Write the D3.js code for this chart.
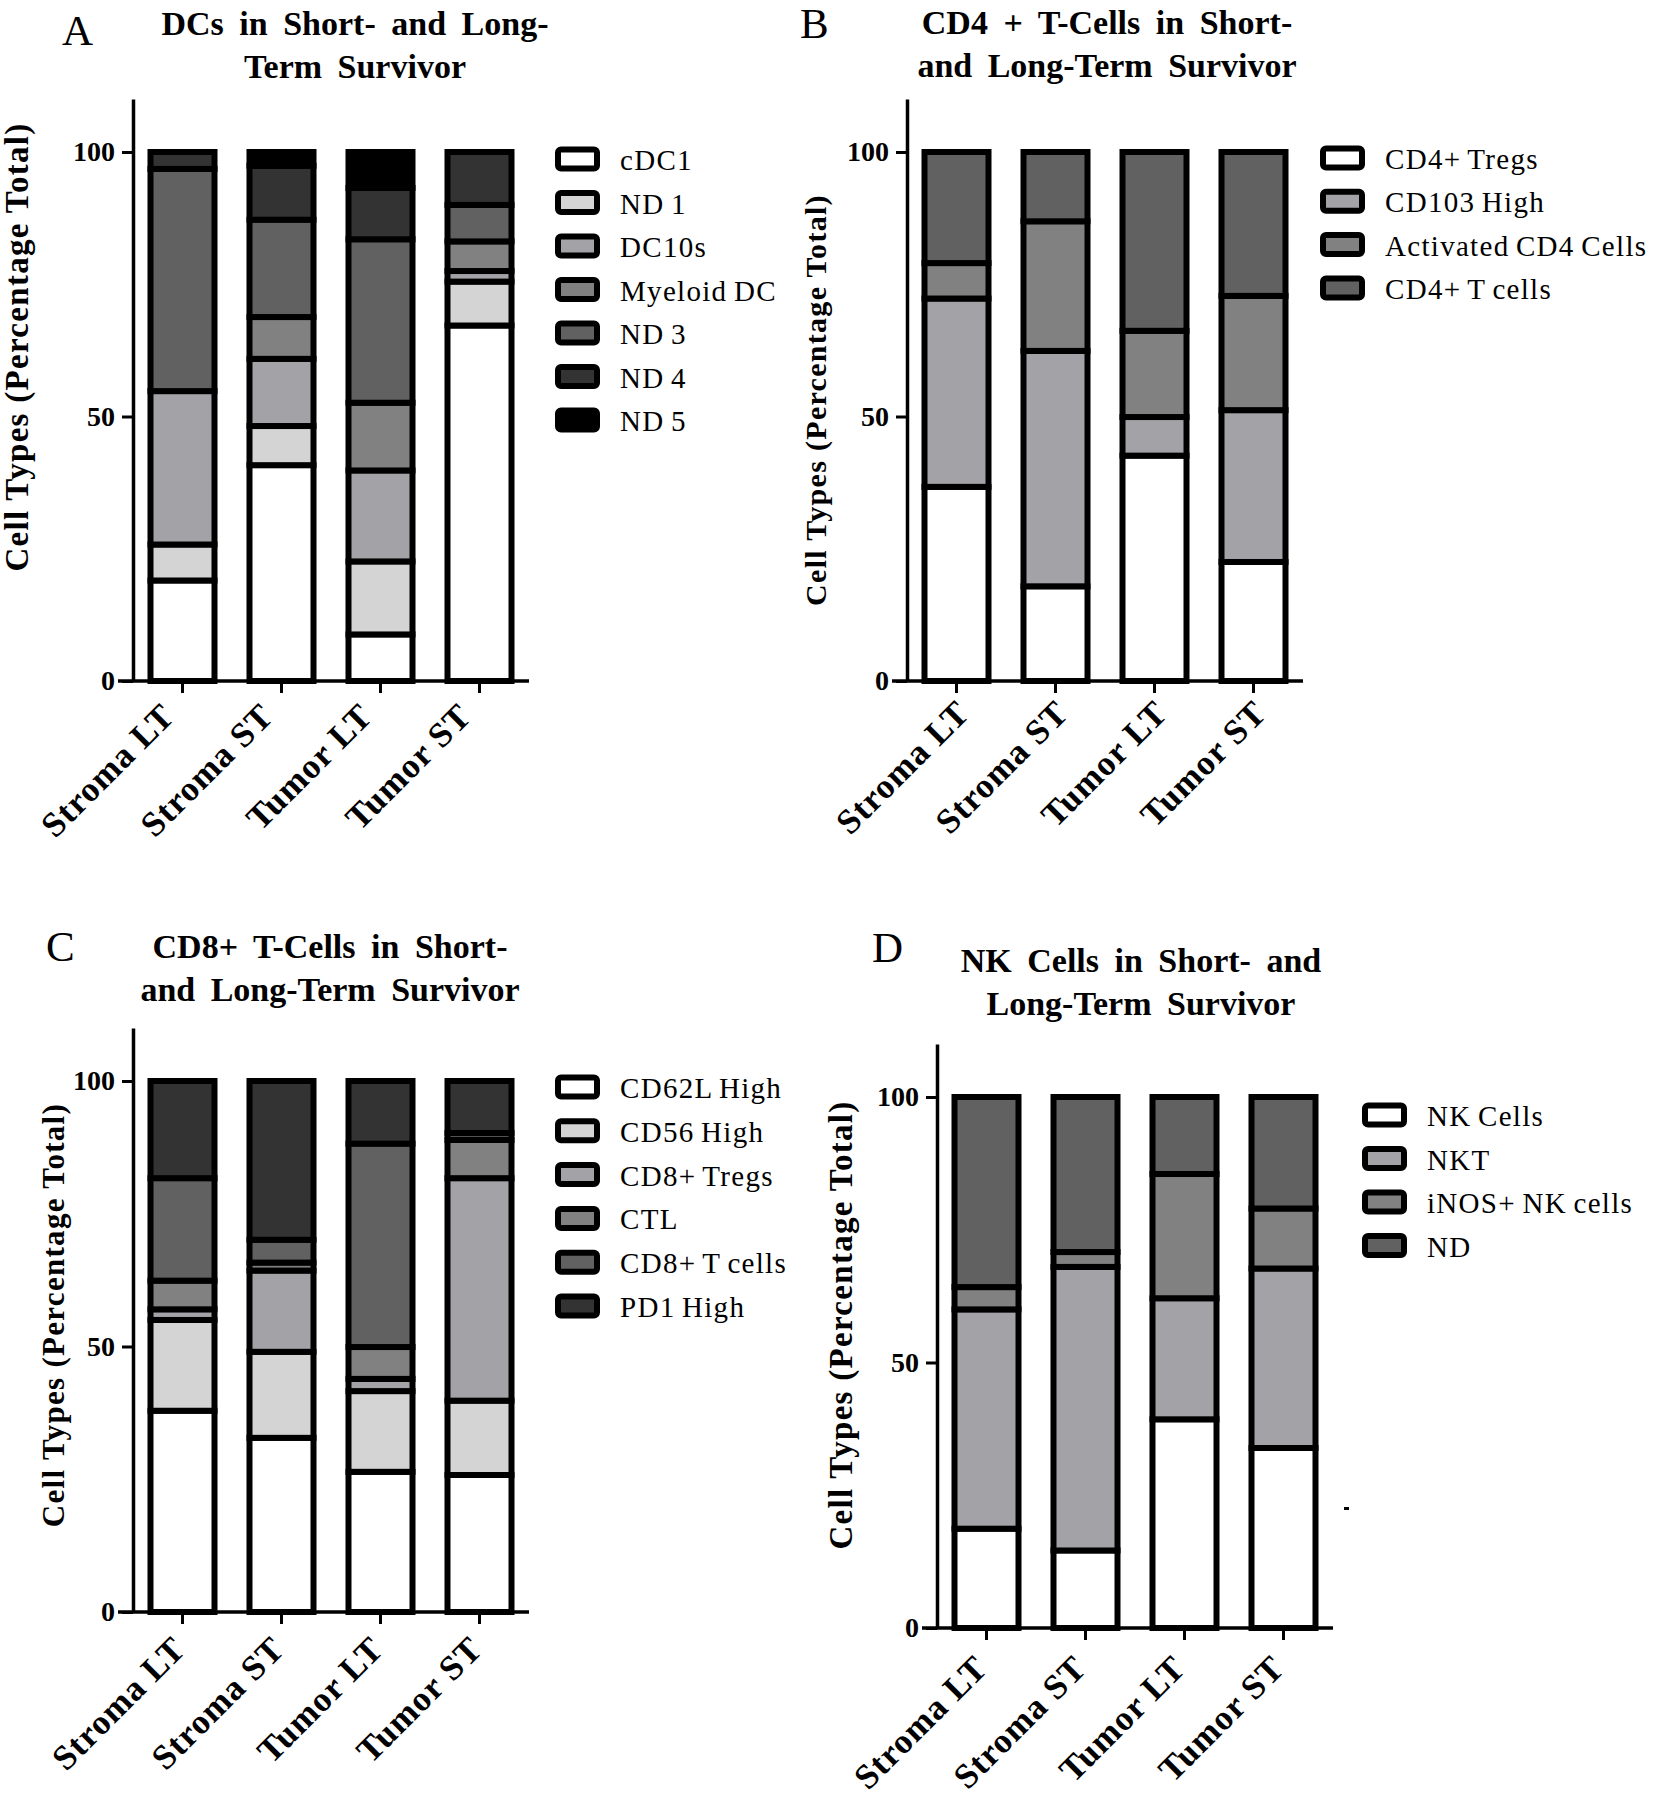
<!DOCTYPE html>
<html><head><meta charset="utf-8">
<script src="https://cdn.jsdelivr.net/npm/d3@7"></script>
<style>
body{margin:0;background:#fff}
svg{display:block}
text{font-family:"Liberation Serif","Times New Roman",Times,serif;fill:#000}
</style>
</head><body>
<svg id="chart" width="1654" height="1800"></svg>
<script>
// ---------------- DATA ----------------
const categories = ["Stroma LT", "Stroma ST", "Tumor LT", "Tumor ST"];
const yTickValues = [0, 50, 100];

// Panel A: DCs
const dcSeries = ["cDC1", "ND 1", "DC10s", "Myeloid DC", "ND 3", "ND 4", "ND 5"];
const dcValues = [
  [19.0, 40.8, 8.8, 67.2],   // cDC1
  [6.8, 7.4, 13.8, 8.3],     // ND 1
  [29.0, 12.7, 17.2, 2.0],   // DC10s
  [0.0, 7.9, 12.8, 5.6],     // Myeloid DC
  [42.0, 18.4, 30.9, 6.9],   // ND 3
  [3.2, 10.2, 9.7, 10.0],    // ND 4
  [0.0, 2.6, 6.8, 0.0]       // ND 5
];
// Panel B: CD4+ T cells
const cd4Series = ["CD4+ Tregs", "CD103 High", "Activated CD4 Cells", "CD4+ T cells"];
const cd4Values = [
  [36.7, 17.9, 42.6, 22.5],
  [35.6, 44.5, 7.3, 28.7],
  [6.7, 24.5, 16.3, 21.6],
  [21.0, 13.1, 33.8, 27.2]
];
// Panel C: CD8+ T cells
const cd8Series = ["CD62L High", "CD56 High", "CD8+ Tregs", "CTL", "CD8+ T cells", "PD1 High"];
const cd8Values = [
  [37.9, 32.8, 26.4, 25.8],
  [17.1, 16.2, 15.2, 14.0],
  [2.0, 15.3, 2.3, 41.9],
  [5.4, 1.5, 6.0, 7.2],
  [19.3, 4.3, 38.3, 1.3],
  [18.3, 29.9, 11.8, 9.8]
];
// Panel D: NK cells
const nkSeries = ["NK Cells", "NKT", "iNOS+ NK cells", "ND"];
const nkValues = [
  [18.7, 14.6, 39.3, 33.9],
  [41.3, 53.4, 22.8, 33.8],
  [4.2, 2.8, 23.4, 11.3],
  [35.8, 29.2, 14.5, 21.0]
];

const titleA = ["DCs in Short- and Long-", "Term Survivor"];
const titleB = ["CD4 + T-Cells in Short-", "and Long-Term Survivor"];
const titleC = ["CD8+ T-Cells in Short-", "and Long-Term Survivor"];
const titleD = ["NK Cells in Short- and", "Long-Term Survivor"];
const yLabel = "Cell Types (Percentage Total)";

// ---------------- STYLE ----------------
const dcColors = ["#ffffff", "#d4d4d4", "#a3a2a6", "#818181", "#616161", "#333333", "#000000"];
const cd4Colors = ["#ffffff", "#a3a2a6", "#818181", "#616161"];
const cd8Colors = ["#ffffff", "#d4d4d4", "#a3a2a6", "#818181", "#616161", "#333333"];
const nkColors = ["#ffffff", "#a3a2a6", "#818181", "#616161"];

const panels = [
  {letter: "A", letterX: 62, letterY: 45, title: titleA, titleX: 355, titleY: 35,
   series: dcSeries, values: dcValues, colors: dcColors,
   axisX: 133, y0: 681, y100: 152, legX: 555, legY: 159, legStep: 43.5,
   yLabX: 28, yLabY: 347, yLabSize: 33, xLabDx: -6, xLabDy: 37},
  {letter: "B", letterX: 800, letterY: 38, title: titleB, titleX: 1107, titleY: 34,
   series: cd4Series, values: cd4Values, colors: cd4Colors,
   axisX: 907, y0: 681, y100: 152, legX: 1320, legY: 158, legStep: 43.3,
   yLabX: 826, yLabY: 400, yLabSize: 30, xLabDx: 15, xLabDy: 34},
  {letter: "C", letterX: 46, letterY: 961, title: titleC, titleX: 330, titleY: 958,
   series: cd8Series, values: cd8Values, colors: cd8Colors,
   axisX: 133, y0: 1612, y100: 1081, legX: 555, legY: 1087, legStep: 43.8,
   yLabX: 64, yLabY: 1315, yLabSize: 31, xLabDx: 5, xLabDy: 39},
  {letter: "D", letterX: 872, letterY: 962, title: titleD, titleX: 1141, titleY: 972,
   series: nkSeries, values: nkValues, colors: nkColors,
   axisX: 937, y0: 1628, y100: 1097, legX: 1362, legY: 1115, legStep: 43.5,
   yLabX: 852, yLabY: 1325, yLabSize: 33, xLabDx: 3, xLabDy: 42}
];

const svg = d3.select("#chart");

panels.forEach(p => {
  const g = svg.append("g");
  const plotW = 396;
  const x = d3.scaleBand().domain(categories)
    .range([p.axisX, p.axisX + plotW]).paddingInner(0.3535).paddingOuter(0.17675);
  const unit = (p.y0 - p.y100) / 100;
  const y = d3.scaleLinear().domain([0, 110]).range([p.y0, p.y0 - 110 * unit]);

  // stacked data
  const rows = categories.map((c, i) => {
    const r = {cat: c};
    p.series.forEach((s, j) => { r[s] = p.values[j][i]; });
    return r;
  });
  const stacked = d3.stack().keys(p.series)(rows);
  const color = d3.scaleOrdinal().domain(p.series).range(p.colors);

  // bars
  g.append("g").selectAll("g").data(stacked).join("g")
    .attr("fill", d => color(d.key))
    .selectAll("rect").data(d => d).join("rect")
    .attr("x", d => x(d.data.cat))
    .attr("width", x.bandwidth())
    .attr("y", d => y(d[1]))
    .attr("height", d => y(d[0]) - y(d[1]))
    .attr("stroke", "#000").attr("stroke-width", 6);

  // y axis
  const yAxis = g.append("g").attr("transform", `translate(${p.axisX},0)`)
    .call(d3.axisLeft(y).tickValues(yTickValues).tickSize(11).tickSizeOuter(0).tickPadding(7));
  yAxis.select(".domain").attr("stroke", "#000").attr("stroke-width", 3.5);
  yAxis.selectAll(".tick line").attr("stroke", "#000").attr("stroke-width", 3);
  yAxis.selectAll(".tick text").attr("font-family", '"Liberation Serif", serif')
    .attr("font-size", 28).attr("font-weight", "bold").attr("fill", "#000");

  // x axis
  const xAxis = g.append("g").attr("transform", `translate(0,${p.y0})`)
    .call(d3.axisBottom(x).tickSize(12).tickSizeOuter(0));
  xAxis.select(".domain").remove();
  xAxis.selectAll(".tick line").attr("stroke", "#000").attr("stroke-width", 3);
  xAxis.selectAll(".tick text")
    .attr("x", 0).attr("y", 0).attr("dy", 0)
    .attr("transform", `translate(${p.xLabDx},${p.xLabDy}) rotate(-45)`)
    .style("text-anchor", "end")
    .attr("font-family", '"Liberation Serif", serif')
    .attr("font-size", 35).attr("font-weight", "bold").attr("letter-spacing", 1).attr("fill", "#000");
  g.append("line")
    .attr("x1", p.axisX - 15).attr("x2", p.axisX + plotW)
    .attr("y1", p.y0).attr("y2", p.y0)
    .attr("stroke", "#000").attr("stroke-width", 3.5);

  // y label
  g.append("text")
    .attr("transform", `translate(${p.yLabX},${p.yLabY}) rotate(-90)`)
    .attr("text-anchor", "middle")
    .attr("font-size", p.yLabSize).attr("font-weight", "bold").attr("letter-spacing", 1.3)
    .text(yLabel);

  // title
  p.title.forEach((t, i) => {
    g.append("text").attr("x", p.titleX).attr("y", p.titleY + i * 43)
      .attr("text-anchor", "middle").attr("font-size", 34).attr("font-weight", "bold")
      .attr("word-spacing", 7).text(t);
  });

  // panel letter
  g.append("text").attr("x", p.letterX).attr("y", p.letterY)
    .attr("font-size", 43).text(p.letter);

  // legend
  const leg = g.append("g").selectAll("g").data(p.series).join("g")
    .attr("transform", (d, i) => `translate(${p.legX},${p.legY + i * p.legStep})`);
  leg.append("rect").attr("x", 3).attr("y", -9.5).attr("width", 39).attr("height", 19)
    .attr("rx", 3).attr("fill", d => color(d)).attr("stroke", "#000").attr("stroke-width", 6);
  leg.append("text").attr("x", 65).attr("y", 11)
    .attr("font-size", 29).attr("letter-spacing", 1.3).attr("word-spacing", -2).text(d => d);
});

// small stray mark present in panel D of the original
svg.append("rect").attr("x", 1344).attr("y", 1507).attr("width", 5).attr("height", 3).attr("fill", "#000");
</script>
</body></html>
